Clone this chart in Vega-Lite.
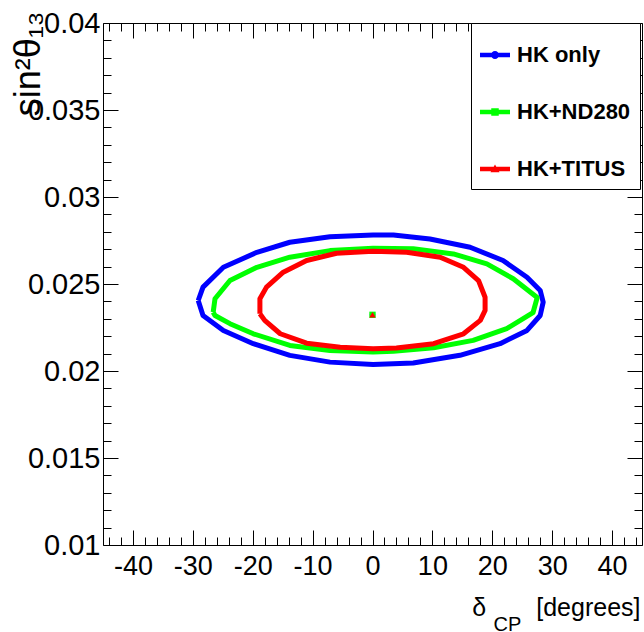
{
  "$schema": "https://vega.github.io/schema/vega-lite/v6.json",
  "width": 539,
  "height": 522,
  "autosize": "none",
  "padding": {"left": 103, "top": 23, "right": 2, "bottom": 87},
  "background": "white",
  "config": {
    "view": {"stroke": "black", "strokeWidth": 1},
    "font": "Liberation Sans",
    "axis": {
      "domain": false, "grid": false, "tickColor": "black", "tickWidth": 1,
      "labelColor": "black", "titleColor": "black",
      "labelFont": "Liberation Sans", "titleFont": "Liberation Sans",
      "titleFontWeight": "normal", "labelOverlap": false, "labelFlush": false, "labelBound": false
    },
    "legend": {
      "fillColor": "white", "strokeColor": "black", "padding": 9,
      "labelFont": "Liberation Sans", "labelFontWeight": "bold", "labelFontSize": 22, "labelColor": "black",
      "symbolSize": 900, "symbolStrokeWidth": 0, "symbolOpacity": 1,
      "rowPadding": 31, "labelOffset": 7, "titleFontSize": 8, "titlePadding": 0
    }
  },
  "datasets": {
    "contours": [
      {"s": "HK only", "i": 0, "x": -29.1, "y": 0.02405},
      {"s": "HK only", "i": 1, "x": -28.3, "y": 0.02482},
      {"s": "HK only", "i": 2, "x": -24.9, "y": 0.02596},
      {"s": "HK only", "i": 3, "x": -19.3, "y": 0.02682},
      {"s": "HK only", "i": 4, "x": -13.8, "y": 0.0274},
      {"s": "HK only", "i": 5, "x": -7.1, "y": 0.02772},
      {"s": "HK only", "i": 6, "x": 0.1, "y": 0.02782},
      {"s": "HK only", "i": 7, "x": 3.5, "y": 0.02782},
      {"s": "HK only", "i": 8, "x": 9.6, "y": 0.02759},
      {"s": "HK only", "i": 9, "x": 16.3, "y": 0.02711},
      {"s": "HK only", "i": 10, "x": 21.8, "y": 0.02635},
      {"s": "HK only", "i": 11, "x": 25.8, "y": 0.02539},
      {"s": "HK only", "i": 12, "x": 28.0, "y": 0.02463},
      {"s": "HK only", "i": 13, "x": 28.5, "y": 0.02396},
      {"s": "HK only", "i": 14, "x": 28.0, "y": 0.02319},
      {"s": "HK only", "i": 15, "x": 25.8, "y": 0.02233},
      {"s": "HK only", "i": 16, "x": 21.3, "y": 0.02157},
      {"s": "HK only", "i": 17, "x": 14.6, "y": 0.0209},
      {"s": "HK only", "i": 18, "x": 6.8, "y": 0.02046},
      {"s": "HK only", "i": 19, "x": 0.1, "y": 0.02038},
      {"s": "HK only", "i": 20, "x": -7.1, "y": 0.02051},
      {"s": "HK only", "i": 21, "x": -13.8, "y": 0.0209},
      {"s": "HK only", "i": 22, "x": -19.9, "y": 0.02157},
      {"s": "HK only", "i": 23, "x": -24.9, "y": 0.02233},
      {"s": "HK only", "i": 24, "x": -28.3, "y": 0.02319},
      {"s": "HK only", "i": 25, "x": -29.1, "y": 0.02405},
      {"s": "HK+ND280", "i": 0, "x": -26.6, "y": 0.02338},
      {"s": "HK+ND280", "i": 1, "x": -26.3, "y": 0.02415},
      {"s": "HK+ND280", "i": 2, "x": -23.8, "y": 0.0252},
      {"s": "HK+ND280", "i": 3, "x": -19.3, "y": 0.02596},
      {"s": "HK+ND280", "i": 4, "x": -13.8, "y": 0.02654},
      {"s": "HK+ND280", "i": 5, "x": -7.1, "y": 0.02692},
      {"s": "HK+ND280", "i": 6, "x": 0.1, "y": 0.02705},
      {"s": "HK+ND280", "i": 7, "x": 6.8, "y": 0.02702},
      {"s": "HK+ND280", "i": 8, "x": 13.5, "y": 0.02673},
      {"s": "HK+ND280", "i": 9, "x": 19.1, "y": 0.02616},
      {"s": "HK+ND280", "i": 10, "x": 23.5, "y": 0.0253},
      {"s": "HK+ND280", "i": 11, "x": 27.5, "y": 0.02422},
      {"s": "HK+ND280", "i": 12, "x": 26.8, "y": 0.02335},
      {"s": "HK+ND280", "i": 13, "x": 22.4, "y": 0.02243},
      {"s": "HK+ND280", "i": 14, "x": 16.8, "y": 0.02176},
      {"s": "HK+ND280", "i": 15, "x": 10.2, "y": 0.02134},
      {"s": "HK+ND280", "i": 16, "x": 3.5, "y": 0.02113},
      {"s": "HK+ND280", "i": 17, "x": 0.1, "y": 0.02109},
      {"s": "HK+ND280", "i": 18, "x": -7.1, "y": 0.02118},
      {"s": "HK+ND280", "i": 19, "x": -13.8, "y": 0.02147},
      {"s": "HK+ND280", "i": 20, "x": -19.9, "y": 0.02214},
      {"s": "HK+ND280", "i": 21, "x": -23.8, "y": 0.02272},
      {"s": "HK+ND280", "i": 22, "x": -26.3, "y": 0.02319},
      {"s": "HK+ND280", "i": 23, "x": -26.6, "y": 0.02338},
      {"s": "HK+TITUS", "i": 0, "x": -18.8, "y": 0.02329},
      {"s": "HK+TITUS", "i": 1, "x": -18.8, "y": 0.02415},
      {"s": "HK+TITUS", "i": 2, "x": -17.7, "y": 0.02482},
      {"s": "HK+TITUS", "i": 3, "x": -14.9, "y": 0.02568},
      {"s": "HK+TITUS", "i": 4, "x": -11.0, "y": 0.02635},
      {"s": "HK+TITUS", "i": 5, "x": -6.0, "y": 0.02677},
      {"s": "HK+TITUS", "i": 6, "x": 0.1, "y": 0.02688},
      {"s": "HK+TITUS", "i": 7, "x": 5.7, "y": 0.02682},
      {"s": "HK+TITUS", "i": 8, "x": 11.3, "y": 0.02654},
      {"s": "HK+TITUS", "i": 9, "x": 15.2, "y": 0.02596},
      {"s": "HK+TITUS", "i": 10, "x": 17.7, "y": 0.0252},
      {"s": "HK+TITUS", "i": 11, "x": 18.8, "y": 0.02424},
      {"s": "HK+TITUS", "i": 12, "x": 18.8, "y": 0.02348},
      {"s": "HK+TITUS", "i": 13, "x": 18.0, "y": 0.02291},
      {"s": "HK+TITUS", "i": 14, "x": 15.2, "y": 0.02214},
      {"s": "HK+TITUS", "i": 15, "x": 10.2, "y": 0.02157},
      {"s": "HK+TITUS", "i": 16, "x": 4.0, "y": 0.02132},
      {"s": "HK+TITUS", "i": 17, "x": 0.1, "y": 0.02128},
      {"s": "HK+TITUS", "i": 18, "x": -5.4, "y": 0.02137},
      {"s": "HK+TITUS", "i": 19, "x": -11.0, "y": 0.0216},
      {"s": "HK+TITUS", "i": 20, "x": -15.4, "y": 0.02214},
      {"s": "HK+TITUS", "i": 21, "x": -18.0, "y": 0.02291},
      {"s": "HK+TITUS", "i": 22, "x": -18.8, "y": 0.02329}
    ],
    "markers": [
      {"s": "HK only", "x": 0, "y": 0.02323},
      {"s": "HK+ND280", "x": 0, "y": 0.02323},
      {"s": "HK+TITUS", "x": 0, "y": 0.02323}
    ]
  },
  "resolve": {"axis": {"x": "independent", "y": "independent"}},
  "layer": [
    {
      "data": {"name": "contours"},
      "mark": {"type": "line", "strokeWidth": 5, "strokeJoin": "round", "clip": true},
      "encoding": {
        "x": {
          "field": "x", "type": "quantitative",
          "scale": {"domain": [-45, 45], "nice": false, "zero": false},
          "axis": {
            "orient": "bottom",
            "values": [-44,-42,-40,-38,-36,-34,-32,-30,-28,-26,-24,-22,-20,-18,-16,-14,-12,-10,-8,-6,-4,-2,0,2,4,6,8,10,12,14,16,18,20,22,24,26,28,30,32,34,36,38,40,42,44],
            "labelExpr": "datum.value % 10 === 0 ? toString(datum.value) : ''",
            "tickSize": {"condition": {"test": "datum.value % 10 === 0", "value": -15}, "value": -8},
            "labelPadding": 23,
            "labelFontSize": 27,
            "title": "δ\u2003\u2003[degrees]",
            "titleFontSize": 25,
            "titleAlign": "right",
            "titleBaseline": "alphabetic",
            "titleX": 537,
            "titleY": 70
          }
        },
        "y": {
          "field": "y", "type": "quantitative",
          "scale": {"domain": [0.01, 0.04], "nice": false, "zero": false},
          "axis": {
            "orient": "left",
            "values": [0.01,0.011,0.012,0.013,0.014,0.015,0.016,0.017,0.018,0.019,0.02,0.021,0.022,0.023,0.024,0.025,0.026,0.027,0.028,0.029,0.03,0.031,0.032,0.033,0.034,0.035,0.036,0.037,0.038,0.039,0.04],
            "labelExpr": "abs(round(datum.value*1000)) % 5 === 0 ? format(datum.value, '~g') : ''",
            "tickSize": {"condition": {"test": "abs(round(datum.value*1000)) % 5 === 0", "value": -15}, "value": -8},
            "labelPadding": 18,
            "labelFontSize": 29,
            "title": "sin²θ₁₃",
            "titleFontSize": 36,
            "titleAngle": 270,
            "titleAlign": "right",
            "titleBaseline": "middle",
            "titleX": -75,
            "titleY": -12
          }
        },
        "stroke": {
          "field": "s", "type": "nominal",
          "scale": {"domain": ["HK+TITUS", "HK+ND280", "HK only"], "range": ["#ff0000", "#00ff00", "#0000ff"]},
          "legend": null
        },
        "order": {"field": "i", "type": "quantitative"}
      }
    },
    {
      "data": {"name": "markers"},
      "transform": [{"filter": "datum.s === 'HK only'"}],
      "mark": {"type": "point", "shape": "circle", "filled": true, "color": "#0000ff", "size": 30, "opacity": 1},
      "encoding": {
        "x": {
          "field": "x", "type": "quantitative",
          "axis": {
            "orient": "top",
            "values": [-44,-42,-40,-38,-36,-34,-32,-30,-28,-26,-24,-22,-20,-18,-16,-14,-12,-10,-8,-6,-4,-2,0,2,4,6,8,10,12,14,16,18,20,22,24,26,28,30,32,34,36,38,40,42,44],
            "labels": false,
            "tickSize": {"condition": {"test": "datum.value % 10 === 0", "value": -15}, "value": -8},
            "title": "CP",
            "titleFontSize": 20,
            "titleAlign": "left",
            "titleBaseline": "alphabetic",
            "titleX": 390,
            "titleY": 607
          }
        },
        "y": {
          "field": "y", "type": "quantitative",
          "axis": {
            "orient": "right",
            "values": [0.01,0.011,0.012,0.013,0.014,0.015,0.016,0.017,0.018,0.019,0.02,0.021,0.022,0.023,0.024,0.025,0.026,0.027,0.028,0.029,0.03,0.031,0.032,0.033,0.034,0.035,0.036,0.037,0.038,0.039,0.04],
            "labels": false,
            "tickSize": {"condition": {"test": "abs(round(datum.value*1000)) % 5 === 0", "value": -15}, "value": -8},
            "title": null
          }
        }
      }
    },
    {
      "data": {"name": "markers"},
      "transform": [{"filter": "datum.s === 'HK+ND280'"}],
      "mark": {"type": "point", "shape": "square", "filled": true, "color": "#00ff00", "size": 40, "opacity": 1},
      "encoding": {
        "x": {"field": "x", "type": "quantitative", "axis": null},
        "y": {"field": "y", "type": "quantitative", "axis": null}
      }
    },
    {
      "data": {"name": "markers"},
      "transform": [{"filter": "datum.s === 'HK+TITUS'"}],
      "mark": {"type": "point", "shape": "triangle-up", "filled": true, "color": "#ff0000", "size": 40, "opacity": 1},
      "encoding": {
        "x": {"field": "x", "type": "quantitative", "axis": null},
        "y": {"field": "y", "type": "quantitative", "axis": null}
      }
    },
    {
      "data": {"name": "markers"},
      "mark": {"type": "point", "filled": true, "opacity": 0},
      "encoding": {
        "x": {"field": "x", "type": "quantitative", "axis": null},
        "y": {"field": "y", "type": "quantitative", "axis": null},
        "color": {
          "field": "s", "type": "nominal",
          "scale": {"domain": ["HK only", "HK+ND280", "HK+TITUS"], "range": ["#0000ff", "#00ff00", "#ff0000"]},
          "legend": {"orient": "none", "legendX": 368, "legendY": 0, "title": " ", "labelExpr": "datum.label + '\u2002'"}
        },
        "shape": {
          "field": "s", "type": "nominal",
          "scale": {
            "domain": ["HK only", "HK+ND280", "HK+TITUS"],
            "range": [
              "M-1,-0.15H1V0.15H-1Z M0,-0.27A0.27,0.27 0 1,1 0,0.27A0.27,0.27 0 1,1 0,-0.27Z",
              "M-1,-0.15H1V0.15H-1Z M-0.25,-0.25H0.25V0.25H-0.25Z",
              "M-1,-0.15H1V0.15H-1Z M0,-0.3L0.3,0.22H-0.3Z"
            ]
          },
          "legend": {"orient": "none", "legendX": 368, "legendY": 0, "title": " ", "labelExpr": "datum.label + '\u2002'"}
        }
      }
    }
  ]
}
